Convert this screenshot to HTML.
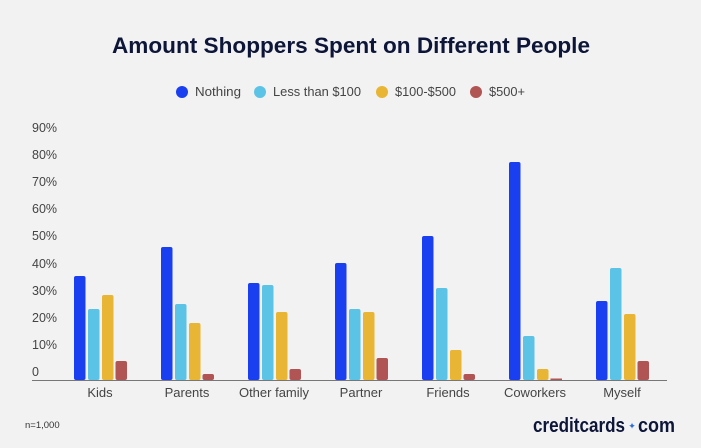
<!DOCTYPE html>
<html><head><meta charset="utf-8"><style>
html,body{margin:0;padding:0;background:#f2f2f2;}
svg{display:block;font-family:"Liberation Sans",sans-serif;}
</style></head><body>
<svg width="701" height="448" viewBox="0 0 701 448" xmlns="http://www.w3.org/2000/svg">
<rect width="701" height="448" fill="#f2f2f2"/>
<text x="351" y="53" text-anchor="middle" font-size="22" font-weight="bold" fill="#0d1638" textLength="478" lengthAdjust="spacingAndGlyphs">Amount Shoppers Spent on Different People</text>
<g font-size="13" fill="#444">
<circle cx="182" cy="92" r="6" fill="#1a3ff0"/><text x="195" y="96" textLength="46" lengthAdjust="spacingAndGlyphs">Nothing</text>
<circle cx="260" cy="92" r="6" fill="#5bc3e6"/><text x="273" y="96" textLength="88" lengthAdjust="spacingAndGlyphs">Less than $100</text>
<circle cx="382" cy="92" r="6" fill="#e8b534"/><text x="395" y="96" textLength="61" lengthAdjust="spacingAndGlyphs">$100-$500</text>
<circle cx="476" cy="92" r="6" fill="#b05454"/><text x="489" y="96" textLength="36" lengthAdjust="spacingAndGlyphs">$500+</text>
</g>
<g font-size="12.5" fill="#444">
<text x="32" y="132">90%</text><text x="32" y="159">80%</text><text x="32" y="186">70%</text>
<text x="32" y="213">60%</text><text x="32" y="240">50%</text><text x="32" y="268">40%</text>
<text x="32" y="295">30%</text><text x="32" y="322">20%</text><text x="32" y="349">10%</text>
<text x="32" y="376">0</text>
</g>
<g id="bars">
<!-- Kids x=74 -->
<rect x="74" y="276" width="11.5" height="104" rx="2" fill="#1a3ff0"/>
<rect x="88" y="309" width="11.5" height="71" rx="2" fill="#5bc3e6"/>
<rect x="102" y="295" width="11.5" height="85" rx="2" fill="#e8b534"/>
<rect x="115.5" y="361" width="11.5" height="19" rx="2" fill="#b05454"/>
<!-- Parents -->
<rect x="161" y="247" width="11.5" height="133" rx="2" fill="#1a3ff0"/>
<rect x="175" y="304" width="11.5" height="76" rx="2" fill="#5bc3e6"/>
<rect x="189" y="323" width="11.5" height="57" rx="2" fill="#e8b534"/>
<rect x="202.5" y="374" width="11.5" height="6" rx="2" fill="#b05454"/>
<!-- Other family -->
<rect x="248" y="283" width="11.5" height="97" rx="2" fill="#1a3ff0"/>
<rect x="262" y="285" width="11.5" height="95" rx="2" fill="#5bc3e6"/>
<rect x="276" y="312" width="11.5" height="68" rx="2" fill="#e8b534"/>
<rect x="289.5" y="369" width="11.5" height="11" rx="2" fill="#b05454"/>
<!-- Partner -->
<rect x="335" y="263" width="11.5" height="117" rx="2" fill="#1a3ff0"/>
<rect x="349" y="309" width="11.5" height="71" rx="2" fill="#5bc3e6"/>
<rect x="363" y="312" width="11.5" height="68" rx="2" fill="#e8b534"/>
<rect x="376.5" y="358" width="11.5" height="22" rx="2" fill="#b05454"/>
<!-- Friends -->
<rect x="422" y="236" width="11.5" height="144" rx="2" fill="#1a3ff0"/>
<rect x="436" y="288" width="11.5" height="92" rx="2" fill="#5bc3e6"/>
<rect x="450" y="350" width="11.5" height="30" rx="2" fill="#e8b534"/>
<rect x="463.5" y="374" width="11.5" height="6" rx="2" fill="#b05454"/>
<!-- Coworkers -->
<rect x="509" y="162" width="11.5" height="218" rx="2" fill="#1a3ff0"/>
<rect x="523" y="336" width="11.5" height="44" rx="2" fill="#5bc3e6"/>
<rect x="537" y="369" width="11.5" height="11" rx="2" fill="#e8b534"/>
<rect x="550.5" y="378.5" width="11.5" height="1.5" fill="#b05454"/>
<!-- Myself -->
<rect x="596" y="301" width="11.5" height="79" rx="2" fill="#1a3ff0"/>
<rect x="610" y="268" width="11.5" height="112" rx="2" fill="#5bc3e6"/>
<rect x="624" y="314" width="11.5" height="66" rx="2" fill="#e8b534"/>
<rect x="637.5" y="361" width="11.5" height="19" rx="2" fill="#b05454"/>
</g>
<line x1="32" y1="380.5" x2="667" y2="380.5" stroke="#777" stroke-width="1"/>
<g font-size="13" fill="#444" text-anchor="middle">
<text x="100" y="397">Kids</text><text x="187" y="397">Parents</text><text x="274" y="397">Other family</text>
<text x="361" y="397">Partner</text><text x="448" y="397">Friends</text><text x="535" y="397">Coworkers</text>
<text x="622" y="397">Myself</text>
</g>
<text x="25" y="428" font-size="9.5" fill="#333">n=1,000</text>
<text x="533" y="432" font-size="20" font-weight="bold" fill="#0d1638" textLength="92" lengthAdjust="spacingAndGlyphs">creditcards</text>
<text x="632" y="429" font-size="9" fill="#2a6be0" text-anchor="middle">✦</text>
<text x="638" y="432" font-size="20" font-weight="bold" fill="#0d1638" textLength="37" lengthAdjust="spacingAndGlyphs">com</text>
</svg>
</body></html>
